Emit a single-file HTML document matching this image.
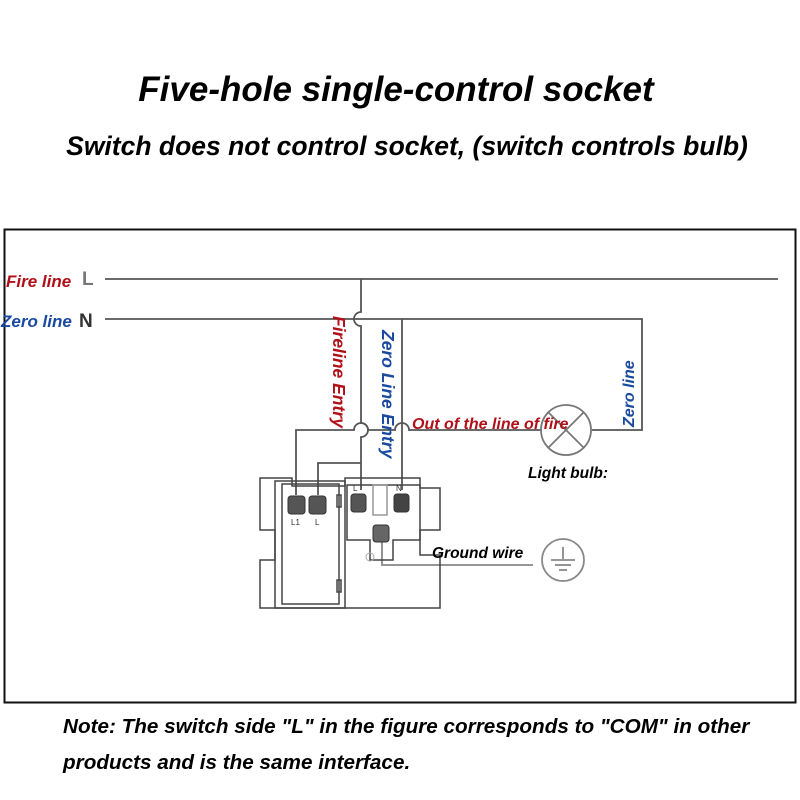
<!DOCTYPE html>
<html><head><meta charset="utf-8"><style>
html,body{margin:0;padding:0;background:#fff;}
svg{display:block;}
</style></head><body>
<svg width="800" height="800" viewBox="0 0 800 800" xmlns="http://www.w3.org/2000/svg" font-family="Liberation Sans, sans-serif">
<text x="396" y="101" text-anchor="middle" font-size="35" font-weight="bold" font-style="italic" fill="#000">Five-hole single-control socket</text>
<text x="407" y="155" text-anchor="middle" font-size="26.5" font-weight="bold" font-style="italic" fill="#000">Switch does not control socket, (switch controls bulb)</text>
<rect x="4.5" y="229.5" width="791" height="473" fill="none" stroke="#111" stroke-width="2"/>
<g font-weight="bold" font-style="italic" font-size="17">
<text x="6" y="287" fill="#b01018">Fire line</text>
<text x="1" y="327" fill="#1a4aa0">Zero line</text>
</g>
<text x="82" y="285" font-size="19" font-weight="bold" fill="#777">L</text>
<text x="79" y="327" font-size="19" font-weight="bold" fill="#333">N</text>
<g stroke="#555" stroke-width="1.8" fill="none">
<line x1="105" y1="279" x2="778" y2="279"/>
<path d="M105 319 H642 V430 H592"/>
<path d="M361 279 V312 A7 7 0 0 0 361 326 V423 A7 7 0 0 1 361 437 V490"/>
<path d="M402 319 V490"/>
<path d="M296 495 V430 H354 A7 7 0 0 1 368 430 H395 A7 7 0 0 1 409 430 H541"/>
<path d="M318 495 V463 H361"/>
<circle cx="566" cy="430" r="25" stroke="#777"/>
<line x1="548" y1="412" x2="584" y2="448" stroke="#777"/>
<line x1="584" y1="412" x2="548" y2="448" stroke="#777"/>
<path d="M382 540 V565 H533" stroke="#888"/>
<circle cx="563" cy="560" r="21" stroke="#888"/>
<line x1="563" y1="547" x2="563" y2="559" stroke="#888"/>
<line x1="551" y1="560" x2="575" y2="560" stroke="#888"/>
<line x1="555" y1="565" x2="571" y2="565" stroke="#888"/>
<line x1="559" y1="570" x2="567" y2="570" stroke="#888"/>
</g>
<g stroke="#444" stroke-width="1.5" fill="none">
<path d="M260 478 H292 V486 H345 V478 H420 V488 H440 V530 H420 V555 H440 V608 H260 V560 H275 V530 H260 Z"/>
<rect x="275" y="481" width="70" height="127"/>
<rect x="282" y="484" width="57" height="120"/>
<path d="M347 485 H420 V540 H393 V560 H370 V540 H347 Z"/>
<rect x="373" y="485" width="14" height="30" stroke="#999"/>
<rect x="337" y="495" width="4" height="12"/>
<rect x="337" y="580" width="4" height="12"/>
</g>
<g fill="#555" stroke="#333">
<rect x="288" y="496" width="17" height="18" rx="3"/>
<rect x="309" y="496" width="17" height="18" rx="3"/>
<rect x="351" y="494" width="15" height="18" rx="3"/>
<rect x="394" y="494" width="15" height="18" rx="3" fill="#444"/>
<rect x="373" y="525" width="16" height="17" rx="3" fill="#666"/>
</g>
<circle cx="370" cy="557" r="4" fill="none" stroke="#aaa"/>
<g font-size="8" fill="#333"><text x="291" y="525">L1</text><text x="315" y="525">L</text><text x="353" y="491">L</text><text x="396" y="491">N</text></g>
<g font-weight="bold" font-style="italic" font-size="16">
<text transform="translate(333,316) rotate(90)" fill="#b01018" font-size="17.5">Fireline Entry</text>
<text transform="translate(382,330) rotate(90)" fill="#1a4aa0" font-size="17.5">Zero Line Entry</text>
<text x="412" y="429" fill="#b01018">Out of the line of fire</text>
<text transform="translate(634,427) rotate(-90)" fill="#1a4aa0">Zero line</text>
</g>
<g font-weight="bold" font-style="italic" font-size="15.5" fill="#000">
<text x="528" y="478">Light bulb:</text>
<text x="432" y="558">Ground wire</text>
</g>
<g font-weight="bold" font-style="italic" font-size="20.7" fill="#000">
<text x="63" y="733">Note: The switch side "L" in the figure corresponds to "COM" in other</text>
<text x="63" y="769">products and is the same interface.</text>
</g>
</svg>
</body></html>
